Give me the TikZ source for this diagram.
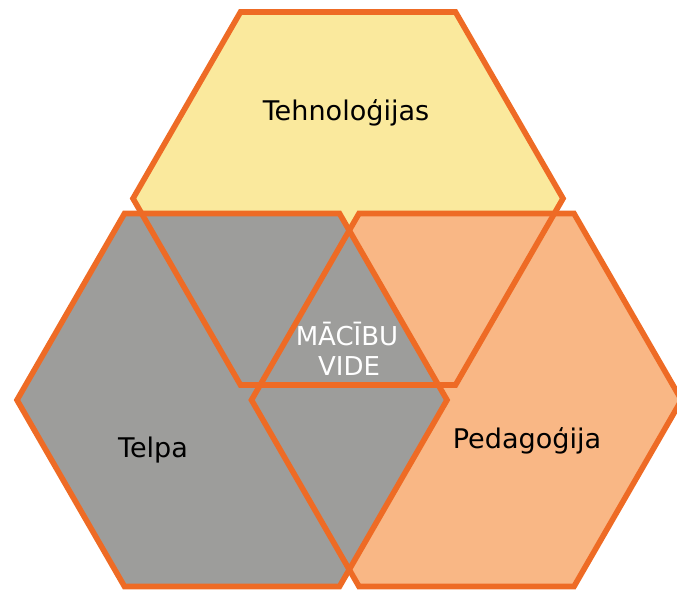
\documentclass[tikz,border=0pt]{standalone}
\usepackage{fontspec}
\setmainfont{DejaVu Sans}
\definecolor{hexline}{HTML}{EE6B25}
\definecolor{techfill}{HTML}{FAE99D}
\definecolor{spacefill}{HTML}{9D9D9B}
\definecolor{pedfill}{HTML}{F9B785}
\newcommand\hexat[2]{(#1-215,#2) -- (#1-107.5,#2-186.5) -- (#1+107.5,#2-186.5) -- (#1+215,#2) -- (#1+107.5,#2+186.5) -- (#1-107.5,#2+186.5) -- cycle}
\begin{document}
\begin{tikzpicture}[x=0.75pt,y=-0.75pt,
  hexedge/.style={draw=hexline,line width=4.2pt},
  lbl/.style={font=\fontsize{20.3}{24}\selectfont,anchor=base,inner sep=0pt,text=black},
  centrelbl/.style={font=\fontsize{19.5}{22}\selectfont,anchor=base,inner sep=0pt,text=white}]
\useasboundingbox (0,0) rectangle (677,590);
\clip (0,0) rectangle (677,590);
% fills
\fill[techfill] \hexat{348}{198.5};
\fill[pedfill] \hexat{466.5}{400};
\fill[spacefill] \hexat{232}{400};
% outlines
\path[hexedge] \hexat{348}{198.5};
\path[hexedge] \hexat{466.5}{400};
\path[hexedge] \hexat{232}{400};
% labels
\node[lbl] (tech) at (346,120) {Tehnoloģijas};
\node[lbl] (telpa) at (153,457) {Telpa};
\node[lbl] (ped) at (527,448) {Pedagoģija};
\node[centrelbl] (mv1) at (347,345) {MĀCĪBU};
\node[centrelbl] (mv2) at (349,375) {VIDE};
\end{tikzpicture}
\end{document}
